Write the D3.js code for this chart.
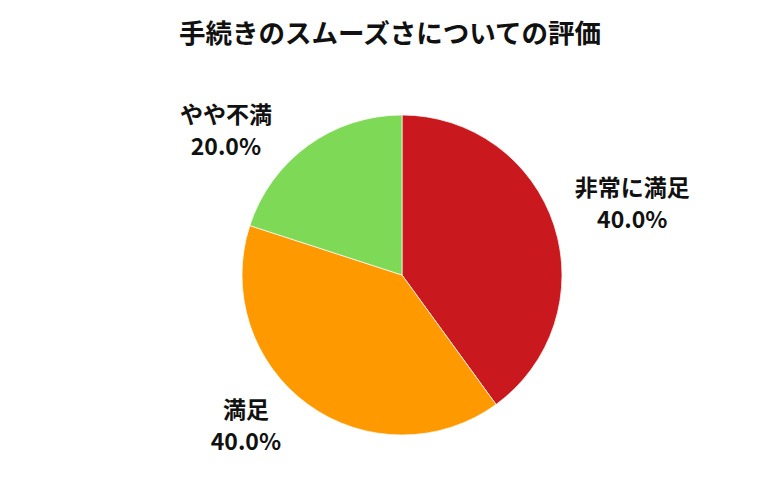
<!DOCTYPE html>
<html><head><meta charset="utf-8">
<script src="https://cdn.jsdelivr.net/npm/d3@7/dist/d3.min.js"></script>
<style>body{margin:0;background:#fff;}svg{display:block;font-family:"Noto Sans CJK JP","Noto Sans",sans-serif;}</style>
</head><body>
<svg id="c" width="780" height="500"></svg>
<script>
const title = "手続きのスムーズさについての評価";
const categories = ["非常に満足", "満足", "やや不満"];
const values = [40.0, 40.0, 20.0];
const colors = ["#C9191E", "#FF9900", "#7ED957"];

const svg = d3.select("#c");
const cx = 402, cy = 275, r = 160;
svg.append("text").attr("x", 390).attr("y", 43).attr("text-anchor", "middle")
  .attr("font-size", 26.5).attr("font-weight", "bold").attr("fill", "#111").text(title);

const pie = d3.pie().sort(null).value(d => d)(values);
const arc = d3.arc().innerRadius(0).outerRadius(r);
const g = svg.append("g").attr("transform", `translate(${cx},${cy})`);
g.selectAll("path").data(pie).join("path").attr("d", arc)
  .attr("fill", (d, i) => colors[i]).attr("stroke", "#fff").attr("stroke-width", 0.7);

// label placement: outside the pie, with small nudges to avoid crowding
const labelArc = d3.arc().innerRadius(240).outerRadius(240);
const nudges = [[2, 2], [-15, -44], [-35, 49]];
const lg = g.selectAll("g.lbl").data(pie).join("g").attr("class", "lbl")
  .attr("transform", (d, i) => { const [x, y] = labelArc.centroid(d); return `translate(${x + nudges[i][0]},${y + nudges[i][1]})`; });
lg.append("text").attr("text-anchor", "middle").attr("y", -7)
  .attr("font-size", 23).attr("font-weight", "bold").attr("fill", "#111")
  .text((d, i) => categories[i]);
lg.append("text").attr("text-anchor", "middle").attr("y", 25)
  .attr("font-size", 23).attr("font-weight", "bold").attr("fill", "#111")
  .text(d => d.value.toFixed(1) + "%");
</script>
</body></html>
